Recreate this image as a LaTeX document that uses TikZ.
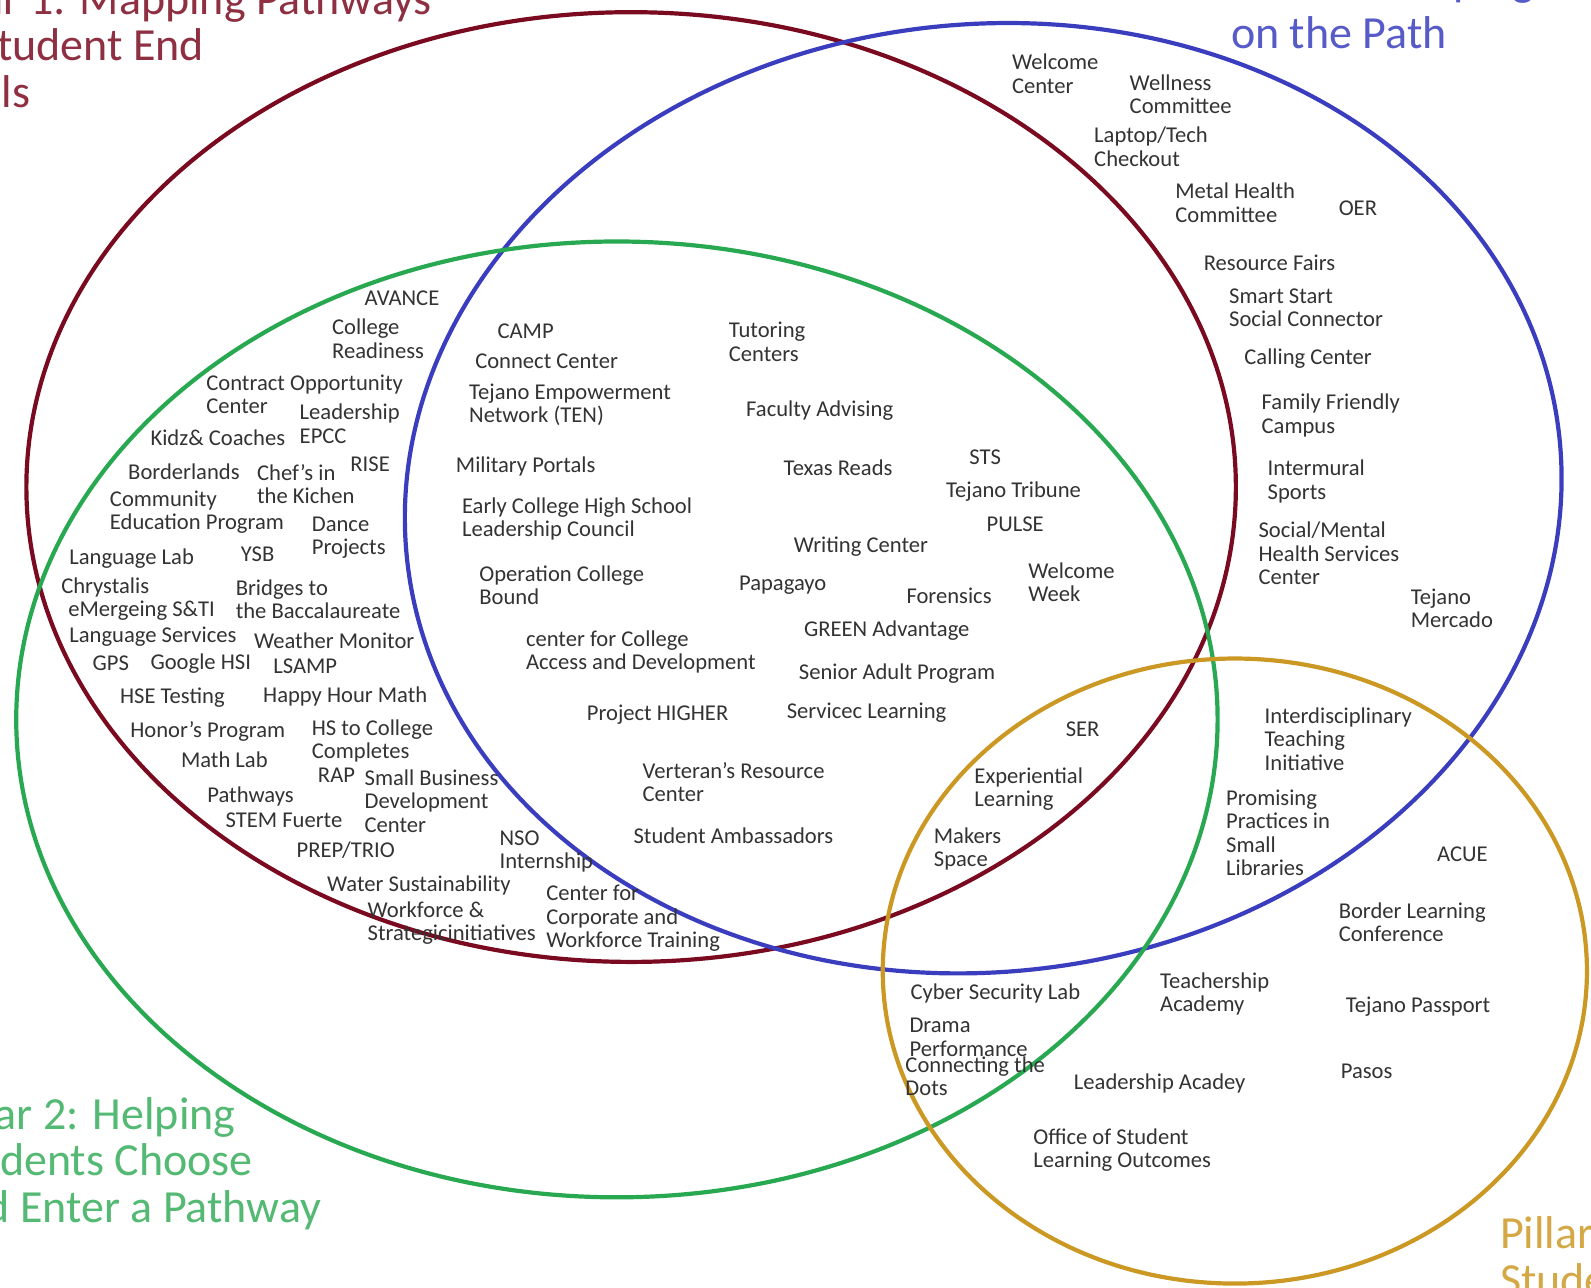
\documentclass[tikz,border=0pt]{standalone}
\usepackage{fontspec}
\setmainfont{Carlito}
\definecolor{pillarred}{RGB}{122,10,32}
\definecolor{pillarblue}{RGB}{58,62,190}
\definecolor{pillargreen}{RGB}{40,168,80}
\definecolor{pillargold}{RGB}{204,152,36}
\begin{document}
\begin{tikzpicture}[x=0.50735pt, y=-0.50735pt,
	lbl/.style={anchor=north west, inner sep=0pt, align=left, text=black!80,
		font=\fontsize{11.3}{11.7}\selectfont},
	pillar/.style={anchor=north west, inner sep=0pt, align=left,
		font=\fontsize{23}{23.3}\selectfont},
	ring/.style={line width=2.1pt}]
	\useasboundingbox (0,0) rectangle (1568,1269);
	\clip (0,0) rectangle (1568,1269);
	\fill[white] (0,0) rectangle (1568,1269);
	% the four pillars
	\draw[ring, pillarred] (622,480) ellipse [x radius=596, y radius=468];
	\draw[ring, pillarblue, rotate around={6:(969,491)}] (969,491) ellipse [x radius=571, y radius=467];
	\draw[ring, pillargreen] (608,709) ellipse [x radius=592, y radius=471];
	\draw[ring, pillargold] (1217,957) ellipse [x radius=347, y radius=308];
	% titles
	\node[pillar, text=pillarred!85!white] (p1) at (-73,-18) {Pillar 1: Mapping Pathways\\to Student End\\Goals};
	\node[pillar, text=pillargreen!80!white] (p2) at (-60,1081) {Pillar 2: Helping\\Students Choose\\and Enter a Pathway};
	\node[pillar, text=pillarblue!85!white] (p3) at (1213,-36) {Pillar 3: Keeping Students\\[3pt]on the Path};
	\node[pillar, text=pillargold!85!white] (p4) at (1478,1199) {Pillar 4: Ensuring\\Students are Learning};
	% pillar 1 and 2
	\node[lbl] (avance) at (359,286) {AVANCE};
	\node[lbl] (colready) at (327,314) {College\\Readiness};
	\node[lbl] (contract) at (203,369) {Contract Opportunity\\Center};
	\node[lbl] (leadepcc) at (295,398) {Leadership\\EPCC};
	\node[lbl] (kidz) at (148,423) {Kidz\& Coaches};
	\node[lbl] (border) at (126,457) {Borderlands};
	\node[lbl] (community) at (108,483) {Community\\Education Program};
	\node[lbl] (chefs) at (253,457) {Chef's in\\the Kichen};
	\node[lbl] (rise) at (345,450) {RISE};
	\node[lbl] (dance) at (307,509) {Dance\\Projects};
	\node[lbl] (langlab) at (68,540) {Language Lab};
	\node[lbl] (ysb) at (237,539) {YSB};
	\node[lbl] (chrys) at (60,569) {Chrystalis};
	\node[lbl] (emerge) at (67,592) {eMergeing S\&TI};
	\node[lbl] (bridges) at (232,571) {Bridges to\\the Baccalaureate};
	\node[lbl] (langserv) at (68,617) {Language Services};
	\node[lbl] (weather) at (250,623) {Weather Monitor};
	\node[lbl] (gps) at (91,646) {GPS};
	\node[lbl] (google) at (148,644) {Google HSI};
	\node[lbl] (lsamp) at (269,649) {LSAMP};
	\node[lbl] (hse) at (118,678) {HSE Testing};
	\node[lbl] (happy) at (259,676) {Happy Hour Math};
	\node[lbl] (honors) at (128,711) {Honor's Program};
	\node[lbl] (hscollege) at (307,709) {HS to College\\Completes};
	\node[lbl] (mathlab) at (178,741) {Math Lab};
	\node[lbl] (rap) at (313,756) {RAP};
	\node[lbl] (smallbiz) at (359,758) {Small Business\\Development\\Center};
	\node[lbl] (pathways) at (204,775) {Pathways};
	\node[lbl] (stem) at (222,801) {STEM Fuerte};
	\node[lbl] (prep) at (292,829) {PREP/TRIO};
	\node[lbl] (water) at (322,863) {Water Sustainability};
	\node[lbl] (workforce) at (362,888) {Workforce \&\\Strategicinitiatives};
	\node[lbl] (nso) at (492,818) {NSO\\Internship};
	\node[lbl] (corporate) at (538,872) {Center for\\Corporate and\\Workforce Training};
	% pillar 1, 2 and 3
	\node[lbl] (camp) at (490,319) {CAMP};
	\node[lbl] (connect) at (468,348) {Connect Center};
	\node[lbl] (ten) at (462,378) {Tejano Empowerment\\Network (TEN)};
	\node[lbl] (tutoring) at (718,317) {Tutoring\\Centers};
	\node[lbl] (faculty) at (735,395) {Faculty Advising};
	\node[lbl] (military) at (449,450) {Military Portals};
	\node[lbl] (texas) at (772,453) {Texas Reads};
	\node[lbl] (sts) at (955,443) {STS};
	\node[lbl] (tribune) at (932,474) {Tejano Tribune};
	\node[lbl] (early) at (455,490) {Early College High School\\Leadership Council};
	\node[lbl] (pulse) at (972,509) {PULSE};
	\node[lbl] (writing) at (782,529) {Writing Center};
	\node[lbl] (wweek) at (1013,554) {Welcome\\Week};
	\node[lbl] (operation) at (472,557) {Operation College\\Bound};
	\node[lbl] (papagayo) at (728,567) {Papagayo};
	\node[lbl] (forensics) at (893,579) {Forensics};
	\node[lbl] (green) at (792,611) {GREEN Advantage};
	\node[lbl] (access) at (518,621) {center for College\\Access and Development};
	\node[lbl] (senior) at (787,654) {Senior Adult Program};
	\node[lbl] (higher) at (578,694) {Project HIGHER};
	\node[lbl] (service) at (775,692) {Servicec Learning};
	\node[lbl] (veteran) at (633,751) {Verteran's Resource\\Center};
	\node[lbl] (ambass) at (624,815) {Student Ambassadors};
	\node[lbl] (ser) at (1050,711) {SER};
	\node[lbl] (experiential) at (960,756) {Experiential\\Learning};
	\node[lbl] (makers) at (920,815) {Makers\\Space};
	% pillar 3
	\node[lbl] (wcenter) at (997,53) {Welcome\\Center};
	\node[lbl] (wellness) at (1113,73) {Wellness\\Committee};
	\node[lbl] (laptop) at (1078,125) {Laptop/Tech\\Checkout};
	\node[lbl] (metal) at (1158,180) {Metal Health\\Committee};
	\node[lbl] (oer) at (1319,198) {OER};
	\node[lbl] (fairs) at (1186,251) {Resource Fairs};
	\node[lbl] (smart) at (1211,284) {Smart Start\\Social Connector};
	\node[lbl] (calling) at (1226,343) {Calling Center};
	\node[lbl] (family) at (1243,388) {Family Friendly\\Campus};
	\node[lbl] (intermural) at (1249,453) {Intermural\\Sports};
	\node[lbl] (social) at (1240,514) {Social/Mental\\Health Services\\Center};
	\node[lbl] (mercado) at (1390,580) {Tejano\\Mercado};
	\node[lbl] (interdis) at (1246,697) {Interdisciplinary\\Teaching\\Initiative};
	\node[lbl] (promising) at (1208,778) {Promising\\Practices in\\Small\\Libraries};
	\node[lbl] (acue) at (1416,834) {ACUE};
	\node[lbl] (blc) at (1319,889) {Border Learning\\Conference};
	% pillar 4
	\node[lbl] (cyber) at (897,969) {Cyber Security Lab};
	\node[lbl] (teachership) at (1143,958) {Teachership\\Academy};
	\node[lbl] (passport) at (1326,982) {Tejano Passport};
	\node[lbl] (drama) at (896,1003) {Drama\\Performance};
	\node[lbl] (dots) at (892,1041) {Connecting the\\Dots};
	\node[lbl] (leadacad) at (1058,1058) {Leadership Acadey};
	\node[lbl] (pasos) at (1321,1048) {Pasos};
	\node[lbl] (office) at (1018,1112) {Office of Student\\Learning Outcomes};
\end{tikzpicture}
\end{document}
